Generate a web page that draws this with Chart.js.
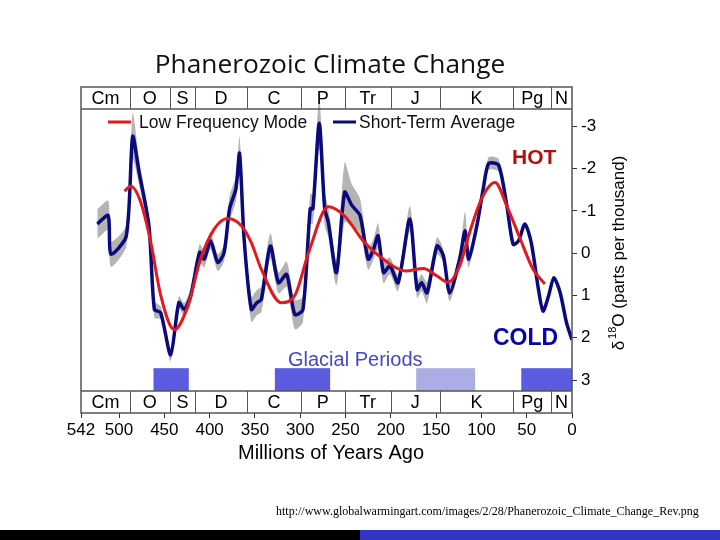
<!DOCTYPE html>
<html>
<head>
<meta charset="utf-8">
<script src="https://cdn.jsdelivr.net/npm/chart.js@4/dist/chart.umd.min.js"></script>
<style>
  body { margin: 0; background: #fff; }
  #wrap { position: relative; width: 720px; height: 540px; overflow: hidden; }
  #chart { position: absolute; left: 0; top: 0; }
  #title { position: absolute; left: 0; width: 660px; top: 45px; text-align: center;
           font: 26.3px "Open Sans", sans-serif; color: #111; }
  #source { position: absolute; left: 276px; top: 504px;
            font: 12px "Liberation Serif", "Times New Roman", serif; color: #000; }
  #barDark { position: absolute; left: 0; top: 530px; width: 360px; height: 10px; background: #000; }
  #barBlue { position: absolute; left: 360px; top: 530px; width: 360px; height: 10px; background: #3434c8; }
</style>
</head>
<body>
<div id="wrap">
  <canvas id="chart" width="720" height="540"></canvas>
  <div id="title">Phanerozoic Climate Change</div>
  <div id="source">http://www.globalwarmingart.com/images/2/28/Phanerozoic_Climate_Change_Rev.png</div>
  <div id="barDark"></div>
  <div id="barBlue"></div>
</div>
<script>
// Short-term average (millions of years ago -> delta 18O)
const shortTermAges = [524, 512, 509, 492, 485, 478, 467, 461, 454, 443, 434, 428, 421, 411, 406, 399, 391, 384,
  378, 371, 367, 362, 354, 348, 343, 333, 324, 315, 306, 297, 289, 286, 279, 273, 269, 260, 251, 243, 234, 225,
  219, 214, 208, 201, 192, 179, 171, 166, 160, 149, 142, 135, 124, 118, 114, 105, 98, 92, 81, 72, 65, 59, 52,
  45, 37, 32, 26, 20, 13, 6, 0];
const shortTermValues = [-0.69, -0.89, 0.02, -0.41, -2.76, -1.93, -0.65, 1.33, 1.41, 2.40, 1.17, 1.33, 1.02, -0.02,
  0.14, -0.29, 0.22, -0.02, -1.05, -1.52, -2.36, -0.35, 1.33, 1.17, 1.10, -0.17, 0.70, 0.50, 1.45, 1.33, -1.05,
  -1.05, -3.07, -1.05, -0.73, 0.46, -1.44, -1.13, -0.89, 0.14, -0.10, -0.41, 0.46, 0.30, 0.70, -0.81, 0.86, 0.70,
  0.94, -0.17, 0.06, 0.94, 0.14, -0.53, 0.14, -0.65, -1.52, -2.12, -2.08, -1.13, -0.21, -0.29, -0.69, -0.25,
  0.86, 1.37, 1.02, 0.58, 0.94, 1.65, 2.05];
// half-width of the grey uncertainty band around the short-term average
const shortTermSpread = [0.35, 0.35, 0.3, 0.25, 0.55, 0.3, 0.2, 0.2, 0.15, 0.15, 0.15, 0.15, 0.2, 0.2, 0.2, 0.2,
  0.2, 0.2, 0.3, 0.3, 0.4, 0.3, 0.3, 0.3, 0.3, 0.3, 0.25, 0.3, 0.35, 0.3, 0.35, 0.35, 0.6, 0.4, 0.35, 0.3, 0.7,
  0.5, 0.4, 0.25, 0.25, 0.3, 0.25, 0.2, 0.2, 0.3, 0.2, 0.2, 0.25, 0.2, 0.15, 0.2, 0.2, 0.45, 0.2, 0.15, 0.12,
  0.15, 0.15, 0.1, 0.05, 0, 0, 0, 0, 0, 0, 0, 0, 0, 0];

// Low frequency mode
const lowFreqAges = [494, 487, 476, 465, 454, 439, 424, 410, 395, 380, 365, 354, 343, 321, 306, 291, 269, 251,
  229, 206, 184, 164, 149, 137, 124, 113, 100, 85, 72, 57, 43, 30];
const lowFreqValues = [-1.47, -1.58, -1.20, -0.26, 1.00, 1.81, 1.25, 0.14, -0.57, -0.82, -0.65, -0.25, 0.38,
  1.17, 1.00, 0.00, -1.10, -0.88, -0.25, 0.18, 0.42, 0.36, 0.54, 0.69, 0.30, -0.49, -1.28, -1.67, -1.12, -0.33,
  0.38, 0.73];

// Geologic periods (boundaries in Ma)
const periodNames = ['Cm', 'O', 'S', 'D', 'C', 'P', 'Tr', 'J', 'K', 'Pg', 'N'];
const periodBounds = [542, 488, 444, 416, 359, 299, 251, 200, 146, 65, 23, 0];

// Glacial periods
const glacialStarts = [462, 328, 172, 56];
const glacialEnds = [423, 267, 107, 0];
const glacialCertain = [true, true, false, true];

// Tick labels
const xTickValues = [542, 500, 450, 400, 350, 300, 250, 200, 150, 100, 50, 0];
const yTickValues = [-3, -2, -1, 0, 1, 2, 3];

const SANS = '"Liberation Sans", Arial, sans-serif';

function toPoints(ages, values) {
  return ages.map((a, i) => ({ x: a, y: values[i] }));
}

// Period strips, glacial bars, labels and annotations
const climateDecor = {
  id: 'climateDecor',
  beforeDatasetsDraw(chart) {
    const { ctx, chartArea: a, scales: { x, y } } = chart;
    const strip = 22;
    ctx.save();

    // glacial bars
    glacialStarts.forEach((s, i) => {
      const x0 = x.getPixelForValue(s);
      const x1 = x.getPixelForValue(glacialEnds[i]);
      const y0 = y.getPixelForValue(2.72);
      ctx.fillStyle = glacialCertain[i] ? '#5b5be0' : '#adade6';
      ctx.fillRect(x0, y0, x1 - x0, a.bottom - strip - y0);
    });
    ctx.restore();
  },
  afterDatasetsDraw(chart) {
    const { ctx, chartArea: a, scales: { x } } = chart;
    const strip = 22;
    ctx.save();

    // period cells, top and bottom
    ctx.font = '18px ' + SANS;
    ctx.textAlign = 'center';
    ctx.textBaseline = 'middle';
    ctx.fillStyle = '#000';
    ctx.strokeStyle = '#555';
    ctx.lineWidth = 1;
    periodNames.forEach((name, i) => {
      const x0 = x.getPixelForValue(periodBounds[i]);
      const x1 = x.getPixelForValue(periodBounds[i + 1]);
      const cx = (x0 + x1) / 2;
      ctx.fillText(name, cx, a.top + strip / 2 + 1);
      ctx.fillText(name, cx, a.bottom - strip / 2 + 1);
      if (i > 0) {
        ctx.beginPath();
        ctx.moveTo(Math.round(x0) + 0.5, a.top);
        ctx.lineTo(Math.round(x0) + 0.5, a.top + strip);
        ctx.moveTo(Math.round(x0) + 0.5, a.bottom - strip);
        ctx.lineTo(Math.round(x0) + 0.5, a.bottom);
        ctx.stroke();
      }
    });

    // frame
    ctx.lineWidth = 1.5;
    ctx.strokeRect(a.left, a.top, a.right - a.left, a.bottom - a.top);
    ctx.beginPath();
    ctx.moveTo(a.left, a.top + strip);
    ctx.lineTo(a.right, a.top + strip);
    ctx.moveTo(a.left, a.bottom - strip);
    ctx.lineTo(a.right, a.bottom - strip);
    ctx.stroke();

    // legend
    const ly = 122;
    ctx.lineWidth = 3;
    ctx.strokeStyle = '#e3191c';
    ctx.beginPath(); ctx.moveTo(108, ly); ctx.lineTo(131, ly); ctx.stroke();
    ctx.strokeStyle = '#0a0a7d';
    ctx.beginPath(); ctx.moveTo(333, ly); ctx.lineTo(356, ly); ctx.stroke();
    ctx.font = '17.5px ' + SANS;
    ctx.fillStyle = '#111';
    ctx.textAlign = 'left';
    ctx.textBaseline = 'middle';
    ctx.fillText('Low Frequency Mode', 139, ly + 1);
    ctx.fillText('Short-Term Average', 359, ly + 1);

    // annotations
    ctx.font = 'bold 21px ' + SANS;
    ctx.fillStyle = '#b0100e';
    ctx.fillText('HOT', 512, 158);
    ctx.font = 'bold 23px ' + SANS;
    ctx.fillStyle = '#0606a6';
    ctx.fillText('COLD', 493, 339);
    ctx.font = '20px ' + SANS;
    ctx.fillStyle = '#4646c8';
    ctx.textBaseline = 'alphabetic';
    ctx.fillText('Glacial Periods', 288, 366);

    // x axis title
    ctx.font = '20px ' + SANS;
    ctx.fillStyle = '#000';
    ctx.textAlign = 'center';
    ctx.textBaseline = 'middle';
    ctx.fillText('Millions of Years Ago', 331, 453);

    // y axis title: delta 18O (parts per thousand)
    ctx.translate(624, 253);
    ctx.rotate(-Math.PI / 2);
    ctx.textAlign = 'left';
    ctx.textBaseline = 'alphabetic';
    const big = '17px ' + SANS, small = '11px ' + SANS;
    ctx.font = big;
    const wD = ctx.measureText('\u03B4').width;
    const wRest = ctx.measureText('O (parts per thousand)').width;
    ctx.font = small;
    const wSup = ctx.measureText('18').width;
    let cx = -(wD + 2 + wSup + wRest) / 2;
    ctx.font = big;
    ctx.fillText('\u03B4', cx, 0);
    cx += wD + 2;
    ctx.font = small;
    ctx.fillText('18', cx, -8);
    cx += wSup;
    ctx.font = big;
    ctx.fillText('O (parts per thousand)', cx, 0);
    ctx.restore();
  }
};

const ctx = document.getElementById('chart').getContext('2d');

new Chart(ctx, {
  type: 'line',
  data: {
    datasets: [
      {
        label: 'Low Frequency Mode',
        data: toPoints(lowFreqAges, lowFreqValues),
        borderColor: '#e3191c',
        borderWidth: 3,
        pointRadius: 0,
        cubicInterpolationMode: 'monotone',
        fill: false,
        order: 0
      },
      {
        label: 'Short-Term Average',
        data: toPoints(shortTermAges, shortTermValues),
        borderColor: '#0a0a7d',
        borderWidth: 3.5,
        pointRadius: 0,
        tension: 0.25,
        fill: false,
        order: 1
      },
      {
        label: 'band upper',
        data: toPoints(shortTermAges, shortTermValues.map((v, i) => v - shortTermSpread[i])),
        borderWidth: 0,
        borderColor: 'rgba(0,0,0,0)',
        pointRadius: 0,
        tension: 0.25,
        fill: false,
        order: 2
      },
      {
        label: 'band lower',
        data: toPoints(shortTermAges, shortTermValues.map((v, i) => v + shortTermSpread[i])),
        borderWidth: 0,
        borderColor: 'rgba(0,0,0,0)',
        backgroundColor: '#b4b4b4',
        pointRadius: 0,
        tension: 0.25,
        fill: '-1',
        order: 3
      }
    ]
  },
  options: {
    responsive: false,
    animation: false,
    layout: { padding: { left: 81, top: 87, right: 0, bottom: 0 } },
    plugins: {
      legend: { display: false },
      tooltip: { enabled: false }
    },
    scales: {
      x: {
        type: 'linear',
        reverse: true,
        min: 0,
        max: 542,
        afterBuildTicks: function(scale) {
          scale.ticks = xTickValues.map(v => ({ value: v }));
        },
        afterFit: function(scale) {
          scale.height = 127;
        },
        grid: { drawOnChartArea: false, tickLength: 5, color: '#333' },
        border: { display: false },
        ticks: { font: { family: SANS, size: 17 }, color: '#000', padding: 2, maxRotation: 0, autoSkip: false }
      },
      y: {
        position: 'right',
        reverse: true,
        min: -3.93,
        max: 3.78,
        afterBuildTicks: function(scale) {
          scale.ticks = yTickValues.map(v => ({ value: v }));
        },
        afterFit: function(scale) {
          scale.width = 148;
        },
        grid: { drawOnChartArea: false, tickLength: 5, color: '#333' },
        border: { display: false },
        ticks: { font: { family: SANS, size: 17 }, color: '#000', padding: 4 }
      }
    }
  },
  plugins: [climateDecor]
});
</script>
</body>
</html>
